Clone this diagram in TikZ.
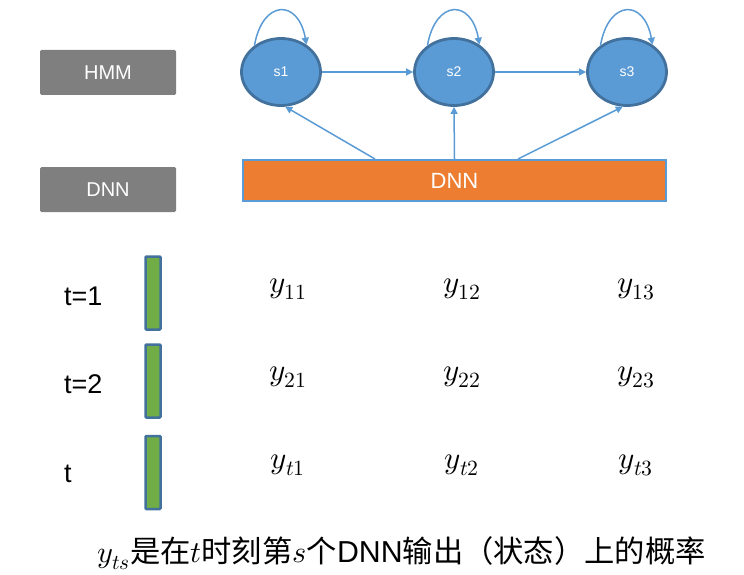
\documentclass[tikz,border=0pt]{standalone}
\usepackage{fontspec}
\usepackage{unicode-math}
\setmainfont{Liberation Sans}
\setmathfont{Latin Modern Math}
\newfontfamily\cjk{Noto Sans CJK SC}
\usetikzlibrary{arrows.meta,shapes.geometric,calc}
\definecolor{boxgray}{HTML}{7F7F7F}
\definecolor{stblue}{HTML}{5B9BD5}
\definecolor{stedge}{HTML}{41719C}
\definecolor{dnnorange}{HTML}{ED7D31}
\definecolor{bargreen}{HTML}{70AD47}
\begin{document}
\begin{tikzpicture}[x=1pt,y=-1pt,
  graybox/.style={rectangle,rounded corners=1.5pt,fill=boxgray,text=white,minimum width=136pt,minimum height=45pt,inner sep=0pt,font=\fontsize{20}{24}\selectfont},
  state/.style={ellipse,fill=stblue,draw=stedge,line width=2.8pt,minimum width=79pt,minimum height=67pt,inner sep=0pt,text=white,font=\fontsize{14}{16}\selectfont},
  dnnbar/.style={rectangle,fill=dnnorange,draw=stblue,line width=2pt,minimum width=423pt,minimum height=41pt,inner sep=0pt,text=white,font=\fontsize{22}{26}\selectfont},
  vecbar/.style={rectangle,rounded corners=1pt,fill=bargreen,draw=stedge,line width=2.5pt,minimum width=15pt,minimum height=73pt,inner sep=0pt},
  arr/.style={draw=stblue,line width=1.5pt,-{Triangle[length=7pt,width=7pt]}},
  tlabel/.style={anchor=base west,inner sep=0pt,font=\fontsize{27}{30}\selectfont},
  yval/.style={anchor=base,inner sep=0pt,font=\fontsize{31}{35}\selectfont}
]
\useasboundingbox (0,0) rectangle (744,575);
% left labels
\node[graybox] (hmm) at (108,72.5) {HMM};
\node[graybox] (dnnl) at (108,189.5) {DNN};
% states
\node[state] (s1) at (281,72) {s1};
\node[state] (s2) at (454,72) {s2};
\node[state] (s3) at (627,72) {s3};
% DNN bar
\node[dnnbar] (dnn) at (454.5,180.5) {DNN};
% transitions
\draw[arr] (s1) -- (s2);
\draw[arr] (s2) -- (s3);
\draw[arr] (s1.135) to[out=80,in=100,looseness=2.3] (s1.47);
\draw[arr] (s2.135) to[out=80,in=100,looseness=2.3] (s2.47);
\draw[arr] (s3.135) to[out=80,in=100,looseness=2.3] (s3.47);
% DNN to states
\draw[arr] ([xshift=-79.5pt]dnn.north) -- (s1.-83);
\draw[arr] (dnn.north) -- (s2.south);
\draw[arr] ([xshift=63.5pt]dnn.north) -- (s3.-97);
% time rows
\node[tlabel] (t1) at (64,305) {t=1};
\node[tlabel] (t2) at (64,393) {t=2};
\node[tlabel] (t3) at (64,482) {t};
\node[vecbar] (v1) at (153,293) {};
\node[vecbar] (v2) at (153,381) {};
\node[vecbar] (v3) at (153,472.5) {};
\node[yval] (y11) at (288,292) {$y_{11}$};
\node[yval] (y12) at (462,292) {$y_{12}$};
\node[yval] (y13) at (636,292) {$y_{13}$};
\node[yval] (y21) at (288,380) {$y_{21}$};
\node[yval] (y22) at (462,380) {$y_{22}$};
\node[yval] (y23) at (636,380) {$y_{23}$};
\node[yval] (yt1) at (288,468) {$y_{t1}$};
\node[yval] (yt2) at (462,468) {$y_{t2}$};
\node[yval] (yt3) at (636,468) {$y_{t3}$};
% caption
\node[anchor=base west,inner sep=0pt,font=\fontsize{30.3}{34}\selectfont] (cap) at (97,562)
  {$y_{ts}$\cjk 是在$t$时刻第$s$个{\normalfont DNN}输出（状态）上的概率};
\end{tikzpicture}
\end{document}
